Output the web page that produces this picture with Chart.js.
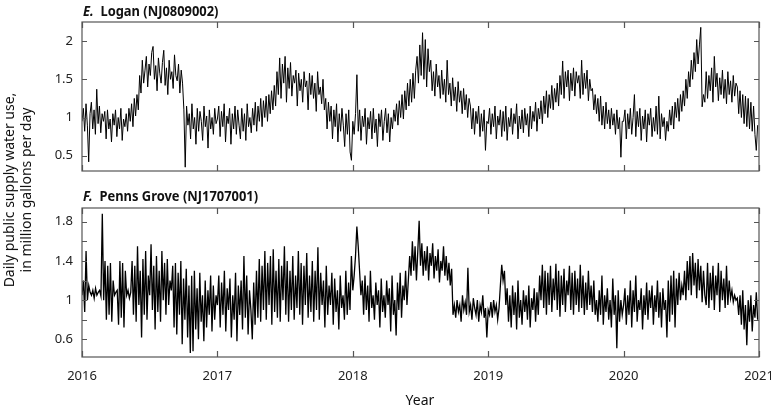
<!DOCTYPE html>
<html>
<head>
<meta charset="utf-8">
<script src="https://cdn.jsdelivr.net/npm/chart.js@4.4.1/dist/chart.umd.min.js"></script>
<style>
  html, body { margin: 0; padding: 0; background: #fff; }
  body { width: 771px; height: 410px; position: relative; overflow: hidden;
         font-family: 'Noto Sans', 'DejaVu Sans Condensed', sans-serif; font-stretch: condensed; color: #111; }
  canvas { position: absolute; left: 0; }
  #c1 { top: 0; }
  #c2 { top: 180px; }
  .ptitle { position: absolute; left: 83px; font-size: 15px; font-weight: bold; white-space: nowrap;
            transform: scaleX(0.86); transform-origin: left center; }
  #t1 { top: 0px; }
  #t2 { top: 185px; }
  #ytitle { position: absolute; left: -133px; top: 173px; width: 300px; height: 34px; line-height: 17px;
            font-size: 14px; text-align: center; transform: rotate(-90deg); white-space: nowrap; }
  #xtitle { position: absolute; left: 370px; width: 100px; top: 390px; text-align: center; font-size: 14px; }
</style>
</head>
<body>
<canvas id="c1" width="771" height="180"></canvas>
<canvas id="c2" width="771" height="230"></canvas>
<div class="ptitle" id="t1"><i>E.</i>&nbsp; Logan (NJ0809002)</div>
<div class="ptitle" id="t2"><i>F.</i>&nbsp; Penns Grove (NJ1707001)</div>
<div id="ytitle">Daily public supply water use,<br>in million gallons per day</div>
<div id="xtitle">Year</div>
<script>
const FONT = "'Noto Sans', 'DejaVu Sans Condensed', sans-serif";

// Years on the x axis
const years = [2016, 2017, 2018, 2019, 2020];
const yearTicks = [2016, 2017, 2018, 2019, 2020, 2021];

// E. Logan, million gallons per day (roughly every 3-4 days)
const logan2016 = [0.95,1.12,0.82,1.18,0.9,0.42,1.05,1.2,0.85,1.1,0.78,1.37,0.92,1.15,0.8,1.05,0.95,
  1.08,0.72,1.1,0.85,0.98,0.68,1.05,0.9,1.1,0.75,1.0,0.85,1.12,0.7,0.98,0.88,1.05,
  0.82,1.12,0.95,1.18,0.88,1.25,1.02,1.3,1.1,
  1.55,1.32,1.75,1.45,1.62,1.8,1.4,1.7,1.55,1.85,1.93,1.5,1.68,1.35,1.78,1.58,1.45,1.72,1.88,1.42,1.65,1.3,1.75,1.5,1.6,1.38,1.82,1.55,1.48,1.7,1.32,1.62,1.45,
  1.1,0.35,1.15,0.9,1.05,0.72,1.18,0.85,1.0,0.65,1.12,0.82,1.08,0.95,0.7,1.15,0.88,1.02,0.6,1.1,0.85,1.0,0.78,1.12,0.92];
const logan2017 = [0.98,1.15,0.75,1.08,0.88,1.18,0.68,1.02,0.92,1.12,0.65,1.05,0.85,1.15,0.78,1.1,0.9,0.72,1.12,0.82,1.05,0.7,1.18,0.88,1.0,
  0.8,1.12,0.9,1.2,0.82,1.15,0.95,1.25,0.88,1.22,1.0,1.28,0.95,1.3,1.05,1.35,1.1,1.42,1.15,
  1.6,1.3,1.78,1.25,1.7,1.45,1.8,1.2,1.65,1.38,1.72,1.28,1.55,1.45,1.62,1.15,1.58,1.35,1.5,1.2,1.6,1.4,1.48,1.1,1.58,1.3,1.55,1.25,1.45,1.08,1.6,1.3,1.4,1.18,1.5,
  1.1,1.25,0.85,1.2,0.95,1.15,0.72,1.1,0.88,1.18,0.68,1.05,0.82,1.12,0.9,0.62,1.05,0.78,1.1,0.55,0.44];
const logan2018 = [0.95,0.78,1.05,1.56,0.82,1.1,0.7,1.02,0.88,
  1.12,0.65,1.0,0.85,1.08,0.72,1.12,0.8,0.98,0.62,1.05,0.88,1.1,0.7,0.95,1.12,0.8,1.05,0.68,1.0,0.85,1.1,
  0.95,1.18,0.9,1.22,1.0,1.3,0.98,1.35,1.1,1.45,1.15,1.5,1.2,1.58,1.25,1.62,
  1.8,1.45,1.95,1.55,2.11,1.5,2.02,1.4,1.9,1.6,
  1.75,1.35,1.6,1.28,1.7,1.4,1.55,1.25,1.62,1.3,1.5,1.2,1.75,1.3,1.45,1.15,1.52,1.22,1.4,1.08,1.47,1.2,1.35,1.05,1.38,1.1,1.3,1.0,1.25,
  1.15,0.85,1.12,0.78,1.08,0.92,1.15,0.75,1.05,0.82,1.1,0.57,0.95];
const logan2019 = [0.92,1.12,0.78,1.05,0.88,1.15,0.72,1.02,0.9,1.1,0.75,1.08,0.82,1.15,0.7,1.0,0.88,1.12,0.78,1.05,0.92,1.18,0.72,1.02,0.85,1.1,0.8,1.12,0.9,1.05,0.75,1.15,0.85,1.08,0.95,1.2,0.82,1.12,
  0.98,1.22,0.92,1.28,1.05,1.35,1.0,1.3,1.12,1.42,1.1,1.38,1.2,1.45,1.15,
  1.55,1.3,1.74,1.25,1.6,1.4,1.62,1.22,1.58,1.35,1.65,1.28,1.6,1.45,1.55,1.25,1.75,1.3,1.58,1.38,1.62,1.22,1.5,1.35,
  1.38,1.1,1.3,1.05,1.25,0.95,1.28,0.9,1.15,0.85,1.2,0.92,1.1,0.85,1.12,0.9,
  1.05,0.78,1.1,0.85,1.0,0.48,0.95];
const logan2020 = [0.95,1.1,0.72,1.05,0.85,1.12,0.78,1.0,1.3,0.75,1.08,0.88,1.12,0.7,1.02,0.85,1.1,0.68,1.05,0.9,1.12,0.75,1.0,0.82,1.15,0.78,1.28,0.72,1.05,0.88,1.0,0.7,
  0.95,0.82,1.1,0.9,1.15,0.85,1.2,1.0,1.25,0.95,1.3,1.08,
  1.35,1.15,1.5,1.25,1.6,1.4,1.75,1.5,1.85,1.6,2.02,1.7,1.95,2.18,
  1.14,1.3,1.2,
  1.6,1.25,1.55,1.35,1.65,1.2,1.8,1.4,1.58,1.22,1.52,1.3,1.62,1.25,1.5,1.18,1.6,1.3,1.48,1.2,1.55,1.28,1.45,
  1.4,1.05,1.35,1.0,1.3,0.92,1.28,0.88,1.25,0.85,1.2,0.82,1.15,0.78,0.57,0.9];

// F. Penns Grove, million gallons per day
const penns2016 = [1.05,1.2,0.88,1.5,1.0,1.15,1.08,1.05,1.1,1.02,1.12,1.05,1.08,1.1,1.04,1.88,
  1.0,1.4,0.8,1.35,0.85,1.38,0.78,1.2,1.05,1.08,1.1,0.75,1.4,0.82,1.38,0.72,1.3,1.05,1.1,1.02,1.08,
  1.4,0.85,1.35,0.78,1.55,0.95,1.3,0.62,1.42,0.85,1.5,0.8,1.25,1.05,1.57,0.9,1.35,0.7,1.45,0.88,1.3,0.78,1.5,1.0,1.38,0.85,1.42,0.95,1.2,1.1,1.35,
  0.72,1.38,0.65,1.28,0.85,1.4,0.55,1.22,0.8,1.32,0.62,1.15,0.46,1.25,0.48,1.3,0.7,1.12,0.6,1.28,0.78,1.05,0.58,1.2,0.72,1.1,0.85,1.25,0.68,1.15,0.8,1.05];
const penns2017 = [0.95,1.25,0.72,1.18,0.85,1.3,0.68,1.12,0.9,1.22,0.62,1.05,0.8,1.28,0.58,1.15,0.85,1.2,0.7,1.45,0.82,1.25,0.65,1.1,0.9,
  0.6,1.18,0.75,1.3,0.82,1.42,0.78,1.35,0.9,1.5,0.8,1.38,0.95,1.45,0.75,1.52,0.88,1.3,0.82,1.42,0.78,1.35,1.0,1.55,0.85,1.4,0.78,1.3,0.9,1.45,0.8,1.25,
  0.92,1.5,0.85,1.38,0.75,1.35,0.95,1.48,0.82,1.25,0.88,1.4,0.78,1.3,0.9,1.54,0.8,1.28,0.95,1.2,0.72,1.35,0.85,1.15,0.95,1.28,0.75,1.22,0.88,1.1,0.7,1.25,0.92,1.05,0.8,1.3,0.85,1.18,0.9,1.45];
const penns2018 = [1.1,1.25,1.45,1.75,1.55,1.3,
  1.05,1.2,0.85,1.25,0.9,1.15,0.78,1.3,0.92,1.05,0.8,1.18,0.95,1.1,0.72,1.22,0.88,1.05,0.82,1.2,0.95,1.12,0.68,1.25,0.85,1.0,0.64,1.18,0.9,1.28,0.82,1.15,1.0,1.3,0.95,1.2,
  1.45,1.25,1.6,1.3,1.55,1.2,1.5,1.81,1.35,1.58,1.25,1.5,1.3,1.55,1.2,1.48,1.35,1.58,1.22,1.45,1.3,1.52,1.18,1.4,1.3,1.55,1.25,1.45,1.2,1.38,1.15,1.32,
  0.85,0.95,0.82,1.0,0.88,0.95,0.78,1.05,0.9,0.98,0.85,1.33,0.88,0.95,0.8,1.02,0.92,0.85,1.0,0.78,0.95,0.88,1.05,0.82,0.92,0.62];
const penns2019 = [0.9,0.85,0.98,0.82,1.0,0.88,0.95,0.8,0.92,
  1.15,1.36,1.2,1.3,
  0.95,1.12,0.78,1.05,0.72,1.15,0.85,1.08,0.7,1.2,0.82,1.0,0.75,1.1,0.88,1.05,0.8,1.15,0.72,1.02,0.9,1.12,0.78,1.08,0.85,
  1.25,1.0,1.36,0.92,1.3,
  0.85,1.28,0.95,1.35,0.88,1.22,1.0,1.37,0.9,1.3,0.83,1.25,0.95,1.32,0.88,1.2,1.05,1.35,0.9,1.28,0.85,1.3,0.95,1.22,0.88,1.36,0.92,1.25,0.85,1.18,0.9,1.3,0.95,1.15,0.88,1.2,0.85,
  1.0,0.78,1.1,0.85,1.25,0.75,1.05,0.88,1.12,0.8,1.0,0.72,1.22,0.85,1.05,0.51,1.1,0.78,1.0,0.85];
const penns2020 = [0.95,1.12,0.75,1.05,0.85,1.2,0.72,1.1,0.88,1.25,0.78,1.0,0.9,1.12,0.7,1.05,0.85,1.18,0.8,1.1,0.92,1.15,0.75,1.05,0.88,1.2,0.82,1.08,0.72,1.12,0.9,1.0,
  0.62,1.2,0.78,1.25,0.85,1.3,0.72,1.22,0.95,1.28,1.0,1.15,1.05,
  1.3,1.0,1.4,1.1,1.45,1.05,1.48,1.15,1.38,1.02,1.42,1.1,1.35,0.98,1.3,1.05,
  0.95,1.38,0.92,1.28,1.0,1.35,0.9,1.25,1.05,1.38,0.88,1.3,1.0,1.22,0.92,1.35,0.95,1.2,1.02,1.1,0.98,1.05,1.0,1.02,
  0.85,1.05,0.75,1.1,0.7,0.95,0.54,1.0,0.78,1.05,0.68,0.95,0.82,1.08,0.8];

// y axis ticks
const loganTicks = [0.5, 1, 1.5, 2];
const loganTickLabels = ['0.5', '1', '1.5', '2'];
const pennsTicks = [0.6, 0.8, 1, 1.2, 1.4, 1.6, 1.8];
const pennsTickLabels = ['0.6', '', '1', '', '1.4', '', '1.8'];

const loganYears = [logan2016, logan2017, logan2018, logan2019, logan2020];
const pennsYears = [penns2016, penns2017, penns2018, penns2019, penns2020];

function toPoints(byYear) {
  return byYear.flatMap((vals, k) => vals.map((v, i) => ({ x: years[k] + i / vals.length, y: v })));
}

// box round the plot area, with short inward tick marks on all four sides
const frameTicks = {
  id: 'frameTicks',
  afterDatasetsDraw(chart) {
    const { ctx, chartArea: a, scales: { x, y } } = chart;
    ctx.save();
    ctx.strokeStyle = '#555';
    ctx.lineWidth = 1.2;
    ctx.strokeRect(a.left, a.top, a.right - a.left, a.bottom - a.top);
    ctx.beginPath();
    x.ticks.forEach(t => {
      const px = Math.round(x.getPixelForValue(t.value)) + 0.5;
      ctx.moveTo(px, a.top); ctx.lineTo(px, a.top + 6);
      ctx.moveTo(px, a.bottom); ctx.lineTo(px, a.bottom - 6);
    });
    y.ticks.forEach(t => {
      const py = Math.round(y.getPixelForValue(t.value)) + 0.5;
      ctx.moveTo(a.left, py); ctx.lineTo(a.left + 5, py);
      ctx.moveTo(a.right, py); ctx.lineTo(a.right - 5, py);
    });
    ctx.stroke();
    ctx.restore();
  }
};

function makePanel(id, data, yMin, yMax, yTicks, yLabels, opts) {
  return new Chart(document.getElementById(id), {
    type: 'line',
    data: {
      datasets: [{
        data: toPoints(data),
        borderColor: '#000',
        borderWidth: opts.lineWidth,
        pointRadius: 0,
        tension: 0,
      }],
    },
    options: {
      responsive: false,
      animation: false,
      events: [],
      parsing: false,
      layout: { padding: { top: opts.top, right: 12, left: 0, bottom: 0 } },
      plugins: { legend: { display: false }, tooltip: { enabled: false } },
      scales: {
        x: {
          type: 'linear',
          min: 2016,
          max: 2021,
          afterBuildTicks: s => { s.ticks = yearTicks.map(v => ({ value: v })); },
          afterFit: s => { s.height = opts.xHeight; s.paddingLeft = 0; s.paddingRight = 0; },
          grid: { display: false, drawTicks: false },
          border: { display: false },
          ticks: {
            display: opts.xLabels,
            maxRotation: 0,
            autoSkip: false,
            padding: 11,
            color: '#222',
            font: { family: FONT, size: 13, weight: 'condensed' },
            callback: v => String(v),
          },
        },
        y: {
          min: yMin,
          max: yMax,
          afterBuildTicks: s => { s.ticks = yTicks.map(v => ({ value: v })); },
          afterFit: s => { s.width = 82; s.paddingTop = 0; s.paddingBottom = 0; },
          grid: { display: false, drawTicks: false },
          border: { display: false },
          ticks: {
            padding: 9,
            color: '#222',
            font: { family: FONT, size: 13, weight: 'condensed' },
            callback: (v, i) => yLabels[i],
          },
        },
      },
    },
    plugins: [frameTicks],
  });
}

makePanel('c1', loganYears, 0.3, 2.25, loganTicks, loganTickLabels, { top: 22, xHeight: 9, xLabels: false, lineWidth: 1 });
makePanel('c2', pennsYears, 0.42, 1.94, pennsTicks, pennsTickLabels, { top: 28, xHeight: 53, xLabels: true, lineWidth: 1.3 });
</script>
</body>
</html>
